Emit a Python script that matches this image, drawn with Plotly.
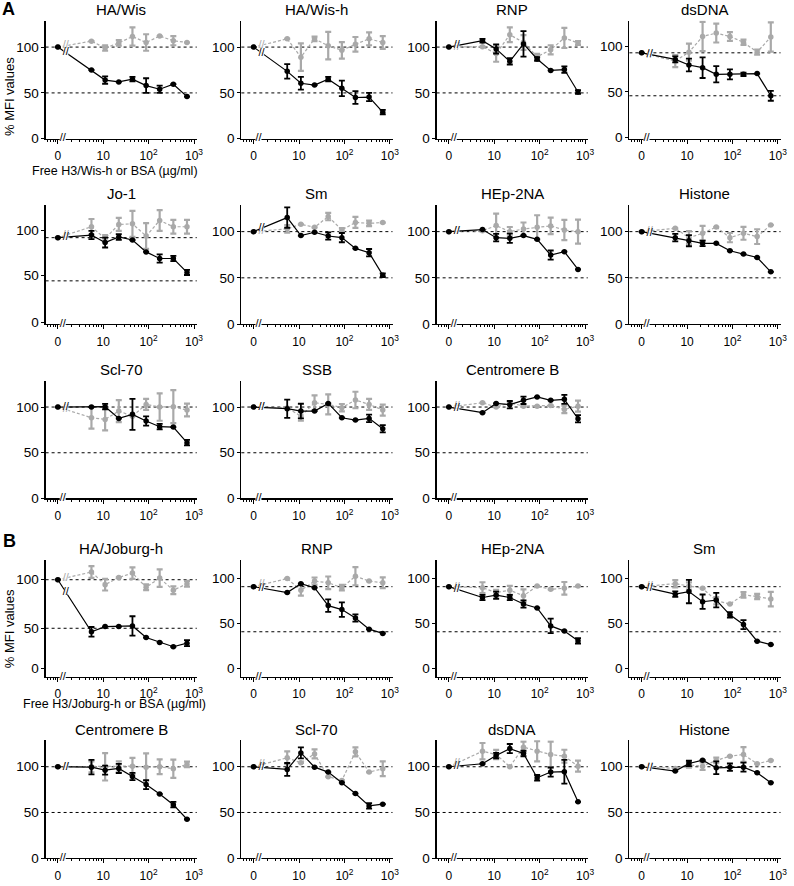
import math
import plotly.graph_objects as go

# ---------------- data ----------------
CONC = [0, 5.5, 11, 22, 44, 88, 175, 350, 700]          # µg/ml (0 = no competitor)
X_TICK_VALS = [1, 10, 100, 1000]
X_TICK_TEXT = ["0", "10", "10<sup>2</sup>", "10<sup>3</sup>"]
X_MINOR = [0.6, 0.7, 0.8, 0.9, 2, 3, 4, 5, 6, 7, 8, 9,
           20, 30, 40, 50, 60, 70, 80, 90, 200, 300, 400, 500, 600, 700, 800, 900]
Y_TICK_TEXT = ["0", "50", "100"]
REF_LEVELS = [100, 50]

# --- A, row 1
HA_WIS_H3 = [100, 75, 64, 62, 65, 58, 54, 59.5, 46]
HA_WIS_H3_ERR = [0, 0, 4, 0, 2.5, 8, 4, 0, 0]
HA_WIS_BSA = [100, 106.5, 99, 104.5, 111.5, 105, 112, 107, 105]
HA_WIS_BSA_ERR = [0, 0, 3, 3, 10, 9, 0, 5, 0]

HA_WISH_H3 = [100, 73.5, 60.5, 58.5, 65, 55, 45, 45.5, 29]
HA_WISH_H3_ERR = [0, 8, 7, 0, 2.5, 8.5, 7, 4.5, 2.5]
HA_WISH_BSA = [100, 109, 89, 109, 101.5, 96.5, 103, 109, 105]
HA_WISH_BSA_ERR = [0, 0, 15, 2.5, 15, 9, 8, 7, 7]

A_RNP_H3 = [100, 107, 98, 84.5, 103.5, 87, 74.5, 75.5, 51]
A_RNP_H3_ERR = [0, 2, 5, 3.5, 14, 2, 0, 3.5, 2]
A_RNP_BSA = [100, 100.5, 93, 113.5, 105, 89.5, 97, 110, 104.5]
A_RNP_BSA_ERR = [0, 0, 9, 8, 8, 3, 5, 11, 2]

A_DSDNA_H3 = [100, 92.3, 85.8, 82.7, 75, 75, 75, 75.8, 50]
A_DSDNA_H3_ERR = [0, 3.5, 7.5, 12, 9.5, 5.8, 2, 0, 5.8]
A_DSDNA_BSA = [100, 90.4, 100.8, 119, 123, 119, 112.3, 100.8, 118.5]
A_DSDNA_BSA_ERR = [0, 7, 10, 17, 11, 5, 3, 3, 17]

# --- A, row 2
A_JO1_H3 = [100, 103, 94.3, 100.8, 97.3, 83.5, 75.9, 75.9, 59.8]
A_JO1_H3_ERR = [0, 4.8, 5.7, 3.4, 0, 0, 4.8, 3, 3]
A_JO1_BSA = [100, 112.6, 98.9, 115.3, 116, 101.9, 119.9, 112.6, 112.6]
A_JO1_BSA_ERR = [0, 9, 4, 7.5, 15, 15, 12, 8, 8]

A_SM_H3 = [100, 115.2, 95.7, 99.3, 95.3, 93.5, 81.9, 77.2, 52.9]
A_SM_H3_ERR = [0, 11, 0, 0, 4, 5, 0, 4, 2]
A_SM_BSA = [100, 103, 108, 104.7, 116.3, 101.8, 110, 109, 109.8]
A_SM_BSA_ERR = [0, 4, 0, 0, 4, 2, 6, 3, 0]

A_HEP_H3 = [100, 102.2, 93.5, 92.8, 95.7, 91.7, 74.6, 78.3, 59.1]
A_HEP_H3_ERR = [0, 0, 4, 5, 0, 0, 5, 0, 0]
A_HEP_BSA = [100, 101, 106.5, 100, 102.9, 104.7, 106.2, 101.8, 100]
A_HEP_BSA_ERR = [0, 0, 13, 5, 7, 13, 9, 11, 13]

A_HIS_H3 = [100, 93.5, 90.2, 87.3, 87.3, 79.3, 75.7, 72, 56.5]
A_HIS_H3_ERR = [0, 4, 6, 3, 0, 0, 0, 0, 0]
A_HIS_BSA = [100, 103.6, 93.5, 98.2, 105, 93.5, 98.2, 94.6, 107.2]
A_HIS_BSA_ERR = [0, 0, 7, 8, 0, 5, 7, 8, 0]

# --- A, row 3
A_SCL_H3 = [100, 100, 100.4, 87.6, 92, 84.7, 78.5, 78.1, 61]
A_SCL_H3_ERR = [0, 0, 3, 0, 17, 5, 3, 0, 3]
A_SCL_BSA = [100, 88.3, 86.5, 95.6, 90, 102.9, 100, 100.4, 96.7]
A_SCL_BSA_ERR = [0, 12, 12, 12, 0, 6, 15, 18, 7]

A_SSB_H3 = [100, 98.2, 95.6, 95.6, 104, 88.3, 85.8, 87.6, 76.3]
A_SSB_H3_ERR = [0, 10, 8, 0, 0, 0, 0, 4, 4]
A_SSB_BSA = [100, 99, 90, 104.7, 102.9, 99.3, 107.7, 102.9, 96.7]
A_SSB_BSA_ERR = [0, 0, 5, 8, 11, 4, 9, 6, 6]

A_CENB_H3 = [100, 93.8, 104, 102.6, 107.3, 111, 107.3, 108.4, 87.2]
A_CENB_H3_ERR = [0, 0, 0, 4, 4, 0, 0, 5, 4]
A_CENB_BSA = [100, 104.7, 100, 104.7, 101, 101, 101.8, 97.4, 101]
A_CENB_BSA_ERR = [0, 0, 0, 0, 0, 0, 0, 4, 6]

# --- B, row 1
HA_JOB_H3 = [100, 46.3, 51.7, 51.7, 52.4, 40.5, 35.4, 31, 34.7]
HA_JOB_H3_ERR = [0, 5, 0, 0, 10, 0, 0, 0, 3]
HA_JOB_BSA = [100, 107.9, 94.9, 102.4, 106.8, 92.2, 101.7, 89.1, 95.9]
HA_JOB_BSA_ERR = [0, 6, 6, 0, 6, 3, 9, 4, 3]

B_RNP_H3 = [100, 93.5, 103.3, 98.9, 79, 74.6, 65.2, 52.9, 48.2]
B_RNP_H3_ERR = [0, 0, 0, 0, 7, 8, 4, 0, 0]
B_RNP_BSA = [100, 109, 96, 106.2, 104.3, 98.9, 111.6, 106.2, 104.3]
B_RNP_BSA_ERR = [0, 0, 6, 4, 7, 3, 10, 0, 6]

B_HEP_H3 = [100, 88, 90.6, 88, 80.8, 76.4, 56.5, 50.7, 40]
B_HEP_H3_ERR = [0, 3, 4, 3, 4, 0, 8, 0, 3]
B_HEP_BSA = [100, 98.9, 93.5, 96, 89.9, 100.7, 97.1, 98.2, 100.7]
B_HEP_BSA_ERR = [0, 6, 3, 5, 7, 0, 0, 7, 0]

B_SM_H3 = [100, 91.7, 94.6, 83.3, 85.1, 68.8, 58, 39.6, 35.8]
B_SM_H3_ERR = [0, 3, 13, 8, 8, 3, 5, 0, 0]
B_SM_BSA = [100, 103.3, 100.7, 98.2, 84.4, 80.8, 90.9, 89.1, 86.2]
B_SM_BSA_ERR = [0, 4, 4, 0, 4, 0, 3, 3, 8]

# --- B, row 2
B_CENB_H3 = [100, 99.6, 96.3, 98.2, 89.3, 80.5, 70.2, 58.5, 42.6]
B_CENB_H3_ERR = [0, 8, 5, 5, 4, 5, 0, 3, 0]
B_CENB_BSA = [100, 100, 100, 100, 100.7, 99.6, 100, 97.8, 102.6]
B_CENB_BSA_ERR = [0, 6, 15, 6, 9, 15, 8, 10, 3]

B_SCL_H3 = [100, 97.1, 115.2, 99.6, 94.2, 82.6, 70.7, 57.2, 59.1]
B_SCL_H3_ERR = [0, 7, 6, 0, 0, 0, 0, 3, 0]
B_SCL_BSA = [100, 109.8, 104.3, 114.1, 89.1, 85.1, 116.3, 94.2, 97.8]
B_SCL_BSA_ERR = [0, 7, 0, 5, 0, 0, 5, 0, 8]

B_DSDNA_H3 = [100, 103.3, 112.3, 119.9, 114.5, 88, 94.2, 94.6, 61.6]
B_DSDNA_H3_ERR = [0, 0, 3, 5, 3, 3, 5, 13, 0]
B_DSDNA_BSA = [100, 117, 113.4, 100, 121.4, 117, 113.4, 111.6, 100.7]
B_DSDNA_BSA_ERR = [0, 9, 5, 0, 6, 11, 14, 7, 6]

B_HIS_H3 = [100, 95.3, 103.6, 107.2, 98.9, 99.6, 99.6, 93.5, 82.6]
B_HIS_H3_ERR = [0, 0, 3, 0, 7, 4, 5, 0, 0]
B_HIS_BSA = [100, 98.2, 102, 100.7, 106.9, 111.6, 113.4, 103.3, 106.9]
B_HIS_BSA_ERR = [0, 0, 3, 4, 3, 0, 8, 0, 0]

# ---------------- panel table (title, series) ----------------
PANELS = [
    ("A1", 0, "HA/Wis", HA_WIS_H3, HA_WIS_H3_ERR, HA_WIS_BSA, HA_WIS_BSA_ERR),
    ("A1", 1, "HA/Wis-h", HA_WISH_H3, HA_WISH_H3_ERR, HA_WISH_BSA, HA_WISH_BSA_ERR),
    ("A1", 2, "RNP", A_RNP_H3, A_RNP_H3_ERR, A_RNP_BSA, A_RNP_BSA_ERR),
    ("A1", 3, "dsDNA", A_DSDNA_H3, A_DSDNA_H3_ERR, A_DSDNA_BSA, A_DSDNA_BSA_ERR),
    ("A2", 0, "Jo-1", A_JO1_H3, A_JO1_H3_ERR, A_JO1_BSA, A_JO1_BSA_ERR),
    ("A2", 1, "Sm", A_SM_H3, A_SM_H3_ERR, A_SM_BSA, A_SM_BSA_ERR),
    ("A2", 2, "HEp-2NA", A_HEP_H3, A_HEP_H3_ERR, A_HEP_BSA, A_HEP_BSA_ERR),
    ("A2", 3, "Histone", A_HIS_H3, A_HIS_H3_ERR, A_HIS_BSA, A_HIS_BSA_ERR),
    ("A3", 0, "Scl-70", A_SCL_H3, A_SCL_H3_ERR, A_SCL_BSA, A_SCL_BSA_ERR),
    ("A3", 1, "SSB", A_SSB_H3, A_SSB_H3_ERR, A_SSB_BSA, A_SSB_BSA_ERR),
    ("A3", 2, "Centromere B", A_CENB_H3, A_CENB_H3_ERR, A_CENB_BSA, A_CENB_BSA_ERR),
    ("B1", 0, "HA/Joburg-h", HA_JOB_H3, HA_JOB_H3_ERR, HA_JOB_BSA, HA_JOB_BSA_ERR),
    ("B1", 1, "RNP", B_RNP_H3, B_RNP_H3_ERR, B_RNP_BSA, B_RNP_BSA_ERR),
    ("B1", 2, "HEp-2NA", B_HEP_H3, B_HEP_H3_ERR, B_HEP_BSA, B_HEP_BSA_ERR),
    ("B1", 3, "Sm", B_SM_H3, B_SM_H3_ERR, B_SM_BSA, B_SM_BSA_ERR),
    ("B2", 0, "Centromere B", B_CENB_H3, B_CENB_H3_ERR, B_CENB_BSA, B_CENB_BSA_ERR),
    ("B2", 1, "Scl-70", B_SCL_H3, B_SCL_H3_ERR, B_SCL_BSA, B_SCL_BSA_ERR),
    ("B2", 2, "dsDNA", B_DSDNA_H3, B_DSDNA_H3_ERR, B_DSDNA_BSA, B_DSDNA_BSA_ERR),
    ("B2", 3, "Histone", B_HIS_H3, B_HIS_H3_ERR, B_HIS_BSA, B_HIS_BSA_ERR),
]

# ---------------- layout / style ----------------
W, H = 794, 886
FONT = "Arial, Liberation Sans, Helvetica, sans-serif"
BLACK = "#000000"
GRAY = "#a9a9a9"
COL_X0 = [46, 243.5, 440.5, 635]
PLOT_W = 152.5
ROWS = {"A1": (20.7, 140), "A2": (206.7, 327), "A3": (384, 503),
        "B1": (565, 683), "B2": (747, 866)}
X_RANGE = [-0.27, 3.06]
ZERO_X = 1.0          # axis position where the "0" concentration is drawn
BREAK_AXIS_X = 1.28
BREAK_LINE_X = 1.5
# per-panel y-axis scaling (max) and label positions (default if absent)
Y_MAX = {3: 137.6, 4: 138, 11: 120.4, 12: 129.7, 13: 129.7, 14: 129.7}
Y_TICKPOS = {3: [2, 54.6, 107.6], 4: [2, 56, 108], 11: [9, 50, 100],
             12: [9.6, 59, 109.6], 13: [9.6, 59, 109.6], 14: [9.6, 59, 109.6]}

xs = [ZERO_X if c == 0 else c for c in CONC]


def errs(a):
    return [e if e else None for e in a]


def break_y(vals):
    t = (math.log10(BREAK_LINE_X) - math.log10(xs[0])) / (math.log10(xs[1]) - math.log10(xs[0]))
    return vals[0] + t * (vals[1] - vals[0])


fig = go.Figure()
layout = dict(width=W, height=H, margin=dict(l=0, r=0, t=0, b=0), autosize=False,
              paper_bgcolor="white", plot_bgcolor="white", showlegend=False,
              font=dict(family=FONT, color=BLACK, size=12.5))
shapes, annotations = [], []

for i, (row, col, title, h3, h3e, bsa, bsae) in enumerate(PANELS):
    n = i + 1
    xa = "x" if n == 1 else f"x{n}"
    ya = "y" if n == 1 else f"y{n}"
    top, axis = ROWS[row]
    x0 = COL_X0[col]
    ymax = Y_MAX.get(i, 129)
    tickpos = Y_TICKPOS.get(i, [0, 50, 100])

    layout["xaxis" if n == 1 else f"xaxis{n}"] = dict(
        domain=[x0 / W, (x0 + PLOT_W) / W], anchor=ya, type="log", range=X_RANGE,
        tickmode="array", tickvals=X_TICK_VALS, ticktext=X_TICK_TEXT,
        ticks="outside", ticklen=4, tickwidth=1, tickcolor=BLACK, ticklabelstandoff=2,
        minor=dict(tickmode="array", tickvals=X_MINOR, ticks="outside", ticklen=2,
                   tickwidth=1, tickcolor=BLACK, showgrid=False),
        showline=True, linecolor=BLACK, linewidth=1.2, showgrid=False, zeroline=False,
        tickfont=dict(size=12, color=BLACK, family=FONT), layer="below traces",
        fixedrange=True)
    layout["yaxis" if n == 1 else f"yaxis{n}"] = dict(
        domain=[1 - axis / H, 1 - top / H], anchor=xa, range=[0, ymax],
        tickmode="array", tickvals=tickpos, ticktext=Y_TICK_TEXT,
        ticks="outside", ticklen=3, tickwidth=1, tickcolor=BLACK,
        showline=True, linecolor=BLACK, linewidth=1.2, showgrid=False, zeroline=False,
        tickfont=dict(size=13.5, color=BLACK, family=FONT), layer="below traces",
        fixedrange=True)

    for lvl in REF_LEVELS:
        shapes.append(dict(type="line", xref=f"{xa} domain", yref=ya, x0=0, x1=1,
                           y0=lvl, y1=lvl, layer="below",
                           line=dict(color=BLACK, width=1, dash="3px,3px")))

    for vals, ev, color, dash, ethick in ((bsa, bsae, GRAY, "3px,2px", 2.2),
                                          (h3, h3e, BLACK, "solid", 1.8)):
        fig.add_trace(go.Scatter(
            x=xs, y=vals, xaxis=xa, yaxis=ya, mode="lines+markers",
            line=dict(color=color, width=1.2, dash=dash),
            marker=dict(color=color, size=5.5),
            error_y=dict(type="data", array=errs(ev), color=color, thickness=ethick, width=3),
            cliponaxis=False, hoverinfo="skip"))
        fig.add_trace(go.Scatter(
            x=[BREAK_LINE_X], y=[break_y(vals)], xaxis=xa, yaxis=ya, mode="markers+text",
            marker=dict(symbol="square", color="white", size=5, opacity=0.9),
            text=["//"], textposition="middle center",
            textfont=dict(color=color, size=11, family=FONT), hoverinfo="skip"))

    # axis break
    fig.add_trace(go.Scatter(
        x=[BREAK_AXIS_X], y=[0], xaxis=xa, yaxis=ya, mode="markers+text",
        marker=dict(symbol="square", color="white", size=6),
        text=["//"], textposition="middle center",
        textfont=dict(color=BLACK, size=11, family=FONT), cliponaxis=False, hoverinfo="skip"))

    annotations.append(dict(text=title, xref=f"{xa} domain", yref=f"{ya} domain",
                            x=0.5, y=1, yshift=11, showarrow=False, xanchor="center",
                            yanchor="middle", font=dict(size=15, color=BLACK, family=FONT)))


def paper_pt(px, py):
    return px / W, 1 - py / H


for txt, px, py, ang, size in (("% MFI values", 9, 97, -90, 13),
                               ("% MFI values", 9, 634, -90, 13),
                               ("Free H3/Wis-h or BSA (µg/ml)", 116, 173, 0, 12.5),
                               ("Free H3/Joburg-h or BSA (µg/ml)", 116, 710, 0, 12.5)):
    x, y = paper_pt(px, py)
    annotations.append(dict(text=txt, xref="paper", yref="paper", x=x, y=y, textangle=ang,
                            showarrow=False, xanchor="center", yanchor="middle",
                            font=dict(size=size, color=BLACK, family=FONT)))

for txt, px, py in (("A", 9, 9), ("B", 10, 546)):
    x, y = paper_pt(px, py)
    annotations.append(dict(text=f"<b>{txt}</b>", xref="paper", yref="paper", x=x, y=y,
                            showarrow=False, xanchor="center", yanchor="middle",
                            font=dict(size=18, color=BLACK, family=FONT)))

layout["shapes"] = shapes
layout["annotations"] = annotations
fig.update_layout(**layout)
fig.write_html("out.html",
               config={"displayModeBar": False, "staticPlot": True},
               post_script="document.body.style.margin='0';"
                           "document.body.style.overflow='hidden';")
